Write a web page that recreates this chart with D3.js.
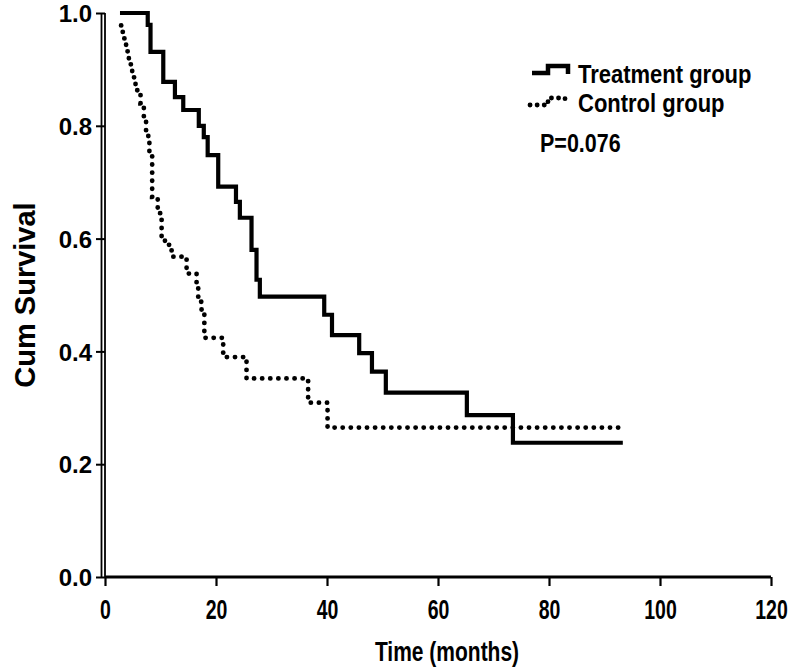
<!DOCTYPE html>
<html>
<head>
<meta charset="utf-8">
<script src="https://cdn.jsdelivr.net/npm/d3@7/dist/d3.min.js"></script>
<style>
  html, body { margin: 0; padding: 0; background: #fff; }
  svg { display: block; }
  text { font-family: "Liberation Sans", Arial, Helvetica, sans-serif; font-weight: bold; fill: #000; }
</style>
</head>
<body>
<svg id="chart" width="792" height="667"></svg>
<script>
// ---- data (months, cumulative survival after each step) ----
const treatmentTimes    = [2.7, 7.7, 8.2, 10.5, 12.6, 14.1, 16.9, 17.8, 18.5, 20.4, 23.6, 24.3, 26.4, 27.3, 27.9, 39.5, 40.9, 45.8, 48.1, 50.6, 65.2, 73.5, 93.3];
const treatmentSurvival = [1.0, 0.979, 0.931, 0.878, 0.851, 0.828, 0.80, 0.78, 0.748, 0.692, 0.665, 0.637, 0.58, 0.527, 0.497, 0.465, 0.429, 0.397, 0.364, 0.327, 0.287, 0.238, 0.238];
const controlTimes      = [2.9, 3.2, 3.8, 4.3, 4.9, 5.5, 6.4, 7.0, 7.4, 7.8, 8.0, 8.5, 9.5, 10.2, 10.8, 12.0, 14.7, 16.5, 16.8, 17.4, 17.9, 21.3, 25.5, 36.6, 40.1, 92.8];
const controlSurvival   = [0.978, 0.955, 0.932, 0.909, 0.886, 0.863, 0.840, 0.815, 0.79, 0.77, 0.748, 0.674, 0.645, 0.603, 0.589, 0.568, 0.538, 0.518, 0.488, 0.473, 0.424, 0.39, 0.352, 0.309, 0.265, 0.265];
const xTicks = [0, 20, 40, 60, 80, 100, 120];
const yTicks = [0.0, 0.2, 0.4, 0.6, 0.8, 1.0];
const seriesNames = ["Treatment group", "Control group"];
const pValueText = "P=0.076";
const xTitle = "Time (months)";
const yTitle = "Cum Survival";

const svg = d3.select("#chart");
const x = d3.scaleLinear().domain([0, 120]).range([105, 771]);
const y = d3.scaleLinear().domain([0, 1]).range([577, 13]);

// ---- axes ----
const yAxis = d3.axisLeft(y).tickValues(yTicks).tickFormat(d3.format(".1f")).tickSize(9).tickPadding(3);
const gy = svg.append("g").attr("transform", `translate(${x(0)},0)`).call(yAxis);
gy.select(".domain").remove();
gy.selectAll(".tick line").attr("stroke", "#000").attr("stroke-width", 2);
gy.selectAll(".tick text").style("font-size", "24px").attr("x", -13).attr("dy", "0.36em");

const xAxis = d3.axisBottom(x).tickValues(xTicks).tickFormat(d3.format("d")).tickSize(9).tickPadding(8);
const gx = svg.append("g").attr("transform", `translate(0,${y(0)})`).call(xAxis);
gx.select(".domain").remove();
gx.selectAll(".tick line").attr("stroke", "#000").attr("stroke-width", 2.2);
gx.selectAll(".tick text").style("font-size", "19.5px")
  .attr("y", 0).attr("dy", 0)
  .attr("transform", "translate(0,42) scale(1,1.42)");

// axis lines (y axis drawn as a double rule)
svg.append("line").attr("x1", x(0) - 3.5).attr("x2", x(0) - 3.5).attr("y1", y(1)).attr("y2", y(0))
   .attr("stroke", "#000").attr("stroke-width", 1.8);
svg.append("line").attr("x1", x(0)).attr("x2", x(0)).attr("y1", y(1)).attr("y2", y(0) + 1)
   .attr("stroke", "#000").attr("stroke-width", 1.8);
svg.append("line").attr("x1", x(0)).attr("x2", x(120)).attr("y1", y(0)).attr("y2", y(0))
   .attr("stroke", "#000").attr("stroke-width", 3);

// ---- curves ----
const line = d3.line().x(d => x(d[0])).y(d => y(d[1])).curve(d3.curveStepAfter);
const tData = treatmentTimes.map((t, i) => [t, treatmentSurvival[i]]);
const cData = controlTimes.map((t, i) => [t, controlSurvival[i]]);

svg.append("path").attr("d", line(cData)).attr("fill", "none").attr("stroke", "#000")
   .attr("stroke-width", 4.8).attr("stroke-linecap", "round").attr("stroke-dasharray", "0.1 8");
svg.append("path").attr("d", line(tData)).attr("fill", "none").attr("stroke", "#000")
   .attr("stroke-width", 4.2).attr("stroke-linejoin", "miter");

// ---- legend ----
const legSolid = [[532, 73], [548, 73], [548, 66], [568, 66], [568, 74]];
const legDot = [[530, 105], [548, 105], [548, 98], [565, 98], [565, 104]];
svg.append("path").attr("d", d3.line()(legSolid)).attr("fill", "none").attr("stroke", "#000").attr("stroke-width", 4.5);
svg.append("path").attr("d", d3.line()(legDot)).attr("fill", "none").attr("stroke", "#000")
   .attr("stroke-width", 4.8).attr("stroke-linecap", "round").attr("stroke-dasharray", "0.1 7");
svg.append("text").attr("transform", "translate(578,83) scale(1,1.2)").style("font-size", "22px").text(seriesNames[0]);
svg.append("text").attr("transform", "translate(578,112) scale(1,1.2)").style("font-size", "22px").text(seriesNames[1]);
svg.append("text").attr("transform", "translate(540,152) scale(1,1.2)").style("font-size", "21.5px").text(pValueText);

// ---- titles ----
svg.append("text").attr("transform", "translate(447,661) scale(1,1.35)").attr("text-anchor", "middle").style("font-size", "21px").text(xTitle);
svg.append("text").attr("transform", "translate(35,295) rotate(-90)").attr("text-anchor", "middle").style("font-size", "29px").text(yTitle);
</script>
</body>
</html>
